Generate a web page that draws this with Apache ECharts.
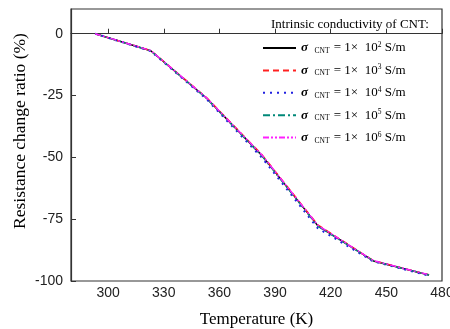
<!DOCTYPE html>
<html>
<head>
<meta charset="utf-8">
<script src="https://cdn.jsdelivr.net/npm/echarts@6/dist/echarts.min.js"></script>
<style>
  html, body { margin: 0; padding: 0; background: #fff; }
  #chart { width: 450px; height: 329px; }
</style>
</head>
<body>
<div id="chart"></div>
<script>
// temperature (K) and resistance change ratio (%) per CNT conductivity
const temps = [293, 323, 353, 383, 413, 443, 473];
const exps = ["2", "3", "4", "5", "6"];
const s1e2 = [0, -6.9, -26.0, -49.3, -77.6, -91.9, -97.6];
const s1e3 = [0, -6.8, -25.8, -49.0, -77.3, -91.8, -97.5];
const s1e4 = [0, -7.0, -26.4, -50.2, -78.6, -92.1, -97.8];
const s1e5 = [0, -6.9, -26.1, -49.5, -77.8, -91.9, -97.6];
const s1e6 = [0, -6.8, -25.9, -49.1, -77.4, -91.8, -97.5];
const xTicks = [300, 330, 360, 390, 420, 450, 480];
const yTicks = [-100, -75, -50, -25, 0];

const colors = ["#000000", "#ff2020", "#2020e0", "#008878", "#ff20ff"];
const dashes = ["solid", [6, 4], [2, 5], [7, 3, 2, 3], [6, 2, 2, 2, 2, 2]];
const allData = [s1e2, s1e3, s1e4, s1e5, s1e6];
const names = exps.map(e => "1e" + e);

let mychart = echarts.init(document.getElementById("chart"));

const serif = "Liberation Serif";
const sans = "Liberation Sans";

let series = allData.map((vals, i) => ({
  name: names[i],
  type: "line",
  symbol: "none",
  data: temps.map((t, j) => [t, vals[j]]),
  lineStyle: { color: colors[i], width: i == 2 ? 2 : 1.5, type: dashes[i] },
  itemStyle: { color: colors[i] },
  z: 2 + i
}));

mychart.setOption({
  animation: false,
  grid: {
    left: 71,
    right: 8,
    top: 9,
    bottom: 48,
    outerBoundsMode: "none",
    show: true,
    borderColor: "#333",
    borderWidth: 1.2
  },
  graphic: [
    {
      type: "text",
      left: 271,
      top: 18,
      style: {
        text: "Intrinsic conductivity of CNT:",
        font: "13px " + serif,
        fill: "#000"
      }
    },
    {
      type: "text",
      x: 20,
      y: 131,
      rotation: Math.PI / 2,
      style: {
        text: "Resistance change ratio (%)",
        font: "17.5px " + serif,
        fill: "#000",
        align: "center",
        verticalAlign: "middle"
      }
    }
  ],
  legend: {
    orient: "vertical",
    left: 257,
    top: 36,
    itemWidth: 33,
    itemHeight: 14,
    itemGap: 8.4,
    data: names,
    itemStyle: { opacity: 0 },
    formatter: function (name) {
      let e = name.slice(2);
      return "{s|σ}  {sub|CNT} = 1×  10{sup|" + e + "} S/m";
    },
    textStyle: {
      color: "#000",
      fontFamily: serif,
      fontSize: 13,
      rich: {
        s: { fontFamily: serif, fontStyle: "italic", fontWeight: "bold", fontSize: 13, lineHeight: 14 },
        sub: { fontFamily: serif, fontSize: 7.5, verticalAlign: "bottom", padding: [6, 1, 0, 0], lineHeight: 14 },
        sup: { fontFamily: serif, fontSize: 7.5, verticalAlign: "top", padding: [0, 0, 6, 0], lineHeight: 14 }
      }
    }
  },
  xAxis: {
    type: "value",
    min: 280,
    max: 480,
    name: "Temperature (K)",
    nameLocation: "middle",
    nameGap: 30,
    nameTextStyle: { fontFamily: serif, fontSize: 17, color: "#000" },
    axisLine: { lineStyle: { color: "#333", width: 1.2 } },
    axisTick: { inside: true, length: 5, customValues: xTicks, lineStyle: { color: "#333" } },
    axisLabel: { customValues: xTicks, fontFamily: sans, fontSize: 14, color: "#222", margin: 5 },
    splitLine: { show: false }
  },
  yAxis: {
    type: "value",
    min: -100,
    max: 10,
    axisLine: { show: true, lineStyle: { color: "#333", width: 1.2 } },
    axisTick: { show: true, inside: true, length: 5, customValues: yTicks, lineStyle: { color: "#333" } },
    axisLabel: { customValues: yTicks, fontFamily: sans, fontSize: 14, color: "#222", margin: 8 },
    splitLine: { show: false }
  },
  series: series
});
</script>
</body>
</html>
